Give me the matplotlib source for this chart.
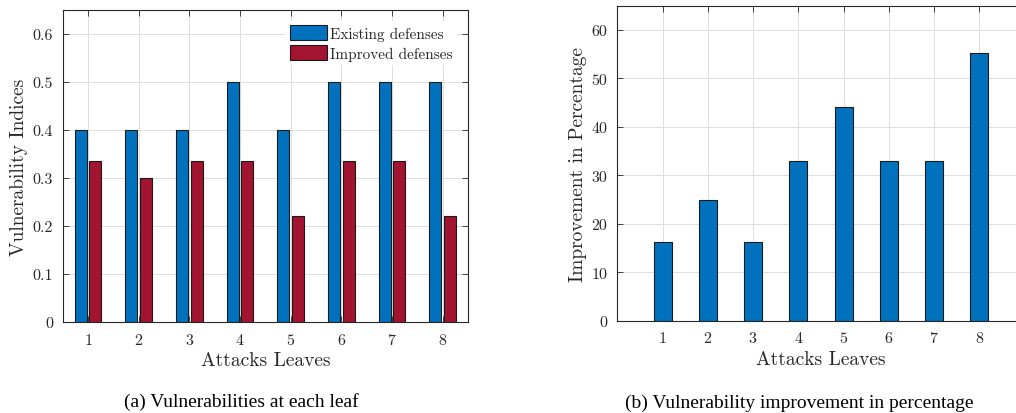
import numpy as np
import matplotlib as mpl
mpl.use("Agg")
import matplotlib.pyplot as plt

mpl.rcParams.update({
    "font.family": "serif",
    "font.serif": ["cmr10", "Liberation Serif", "DejaVu Serif"],
    "mathtext.fontset": "cm",
    "axes.formatter.use_mathtext": True,
})

# data
LEAVES = [1, 2, 3, 4, 5, 6, 7, 8]
EXISTING = [0.4, 0.4, 0.4, 0.5, 0.4, 0.5, 0.5, 0.5]
IMPROVED = [0.335, 0.3, 0.335, 0.335, 0.22, 0.335, 0.335, 0.22]
IMPROVEMENT_PCT = [16.3, 25.0, 16.3, 33.0, 44.2, 33.0, 33.0, 55.3]

BLUE = "#0072BD"
RED = "#A2142F"
TXT = "#262626"
GRID = "#dedede"


def style_axes(ax):
    ax.set_axisbelow(True)
    ax.grid(True, color=GRID, linewidth=0.7)
    ax.tick_params(direction="in", top=True, right=True, length=4,
                   width=0.6, colors=TXT, labelsize=11.5, pad=7)
    for sp in ax.spines.values():
        sp.set_color(TXT)
        sp.set_linewidth(0.8)


fig = plt.figure(figsize=(10.16, 4.14), dpi=100)

# (a) grouped bars
ax1 = fig.add_axes([0.0617, 0.2198, 0.3989, 0.7536])
x = np.array(LEAVES)
ax1.bar(x - 0.145, EXISTING, width=0.24, color=BLUE, edgecolor="#1a1a1a",
        linewidth=0.8, label="Existing defenses")
ax1.bar(x + 0.145, IMPROVED, width=0.24, color=RED, edgecolor="#1a1a1a",
        linewidth=0.8, label="Improved defenses")
ax1.set_xlim(0.5, 8.5)
ax1.set_ylim(0, 0.65)
ax1.set_xticks(LEAVES)
ax1.set_yticks([0, 0.1, 0.2, 0.3, 0.4, 0.5, 0.6])
ax1.set_yticklabels(["0", "0.1", "0.2", "0.3", "0.4", "0.5", "0.6"])
style_axes(ax1)
ax1.set_xlabel("Attacks Leaves", fontsize=14, color=TXT, labelpad=3)
ax1.set_ylabel("Vulnerability Indices", fontsize=14, color=TXT, labelpad=3)
leg = ax1.legend(loc="upper right", bbox_to_anchor=(0.98, 0.975),
                 fontsize=11, frameon=True, fancybox=False, framealpha=1,
                 edgecolor="none", handlelength=2.4, handleheight=1.05,
                 handletextpad=0.2, labelspacing=0.3, borderpad=0.3,
                 borderaxespad=0.2)
for t in leg.get_texts():
    t.set_color(TXT)

# (b) improvement percentage
ax2 = fig.add_axes([0.6076, 0.2229, 0.4009, 0.7609])
ax2.bar(LEAVES, IMPROVEMENT_PCT, width=0.4, color=BLUE, edgecolor="#1a1a1a",
        linewidth=0.8)
ax2.set_xlim(0, 9)
ax2.set_ylim(0, 65)
ax2.set_xticks(LEAVES)
ax2.set_yticks([0, 10, 20, 30, 40, 50, 60])
ax2.set_yticklabels(["0", "10", "20", "30", "40", "50", "60"])
style_axes(ax2)
ax2.set_xlabel("Attacks Leaves", fontsize=14, color=TXT, labelpad=3)
ax2.set_ylabel("Improvement in Percentage", fontsize=14, color=TXT, labelpad=3)

cap_font = ["Liberation Serif", "DejaVu Serif"]
fig.text(241 / 1016, 1 - 402 / 414, "(a) Vulnerabilities at each leaf",
         ha="center", va="center", fontsize=14, family=cap_font)
fig.text(799 / 1016, 1 - 403 / 414, "(b) Vulnerability improvement in percentage",
         ha="center", va="center", fontsize=14, family=cap_font)

fig.savefig("out.png", dpi=100)
